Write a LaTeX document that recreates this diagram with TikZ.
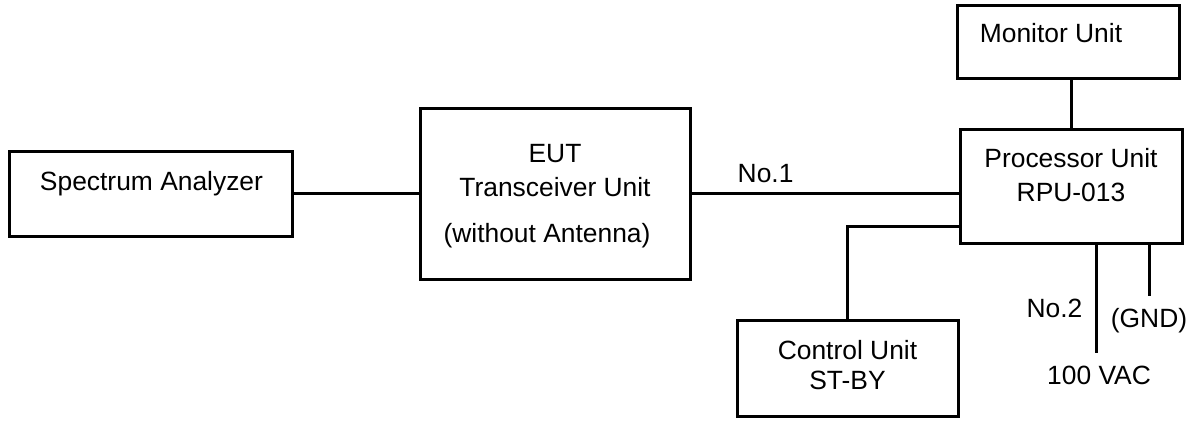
\documentclass[tikz,border=0pt]{standalone}
\usepackage{fontspec}
\setmainfont{Liberation Sans}
\usetikzlibrary{positioning}
\tikzset{
    x=0.5pt, y=-0.5pt, % one unit is one pixel of the drawing, y runs down
    every node/.style={font=\fontsize{13.2}{17}\selectfont}, % text size
    unit/.style={draw, line width=1.5pt, outer sep=0pt, inner sep=0pt}, % the boxes
    wire/.style={line width=1.5pt}, % the cables
    lbl/.style={inner sep=0pt, text height=0.716em, text depth=0pt}, % cable labels
}
\begin{document}
\begin{tikzpicture}
    \useasboundingbox (0,0) rectangle (1199,421);
    \node[unit, minimum width=141.5pt, minimum height=42.5pt, label={[xshift=0.5pt, yshift=5.35pt]center:Spectrum Analyzer}] (sa) at (150.5,194) {};
    \node[unit, minimum width=135pt, minimum height=85.5pt, right=64pt of sa, label={[align=center, yshift=-0.9pt]center:{EUT\\Transceiver Unit\\[6pt](without Antenna)\hspace*{8pt}}}] (eut) {};
    \node[unit, minimum width=111pt, minimum height=57pt, right=135pt of eut, yshift=3.5pt, label={[align=center, yshift=6pt]center:{Processor Unit\\RPU-013}}] (proc) {};
    \node[unit, minimum width=111pt, minimum height=36.5pt, above=25.5pt of proc, xshift=-1.5pt, label={[xshift=-8.5pt, yshift=4.75pt]center:Monitor Unit}] (mon) {};
    \node[unit, minimum width=110.5pt, minimum height=48pt, below left=38.5pt and 1pt of proc.south west, label={[align=center, yshift=2pt]center:{Control Unit\\[-2pt]ST-BY}}] (ctrl) {};
    \draw[wire] (sa) -- (eut);
    \draw[wire] (eut) -- (eut -| proc.west) node[lbl, pos=0.28, yshift=9.5pt] (no1) {No.1};
    \draw[wire] (proc.north) -- (proc.north |- mon.south);
    \draw[wire] ([yshift=-20pt]proc.west) -| (ctrl);
    \draw[wire] ([xshift=12.5pt]proc.south) -- ++(0,109) coordinate (ac);
    \draw[wire] ([xshift=39pt]proc.south) -- ++(0,52) coordinate (gnd);
    \node[lbl] (vac) at ([xshift=1.5pt, yshift=-12pt]ac) {100 VAC};
    \node[lbl] (no2) at ([xshift=-20.75pt, yshift=21.5pt]ac) {No.2};
    \node[lbl] (gndlbl) at ([yshift=-12pt]gnd) {(GND)};
\end{tikzpicture}
\end{document}
